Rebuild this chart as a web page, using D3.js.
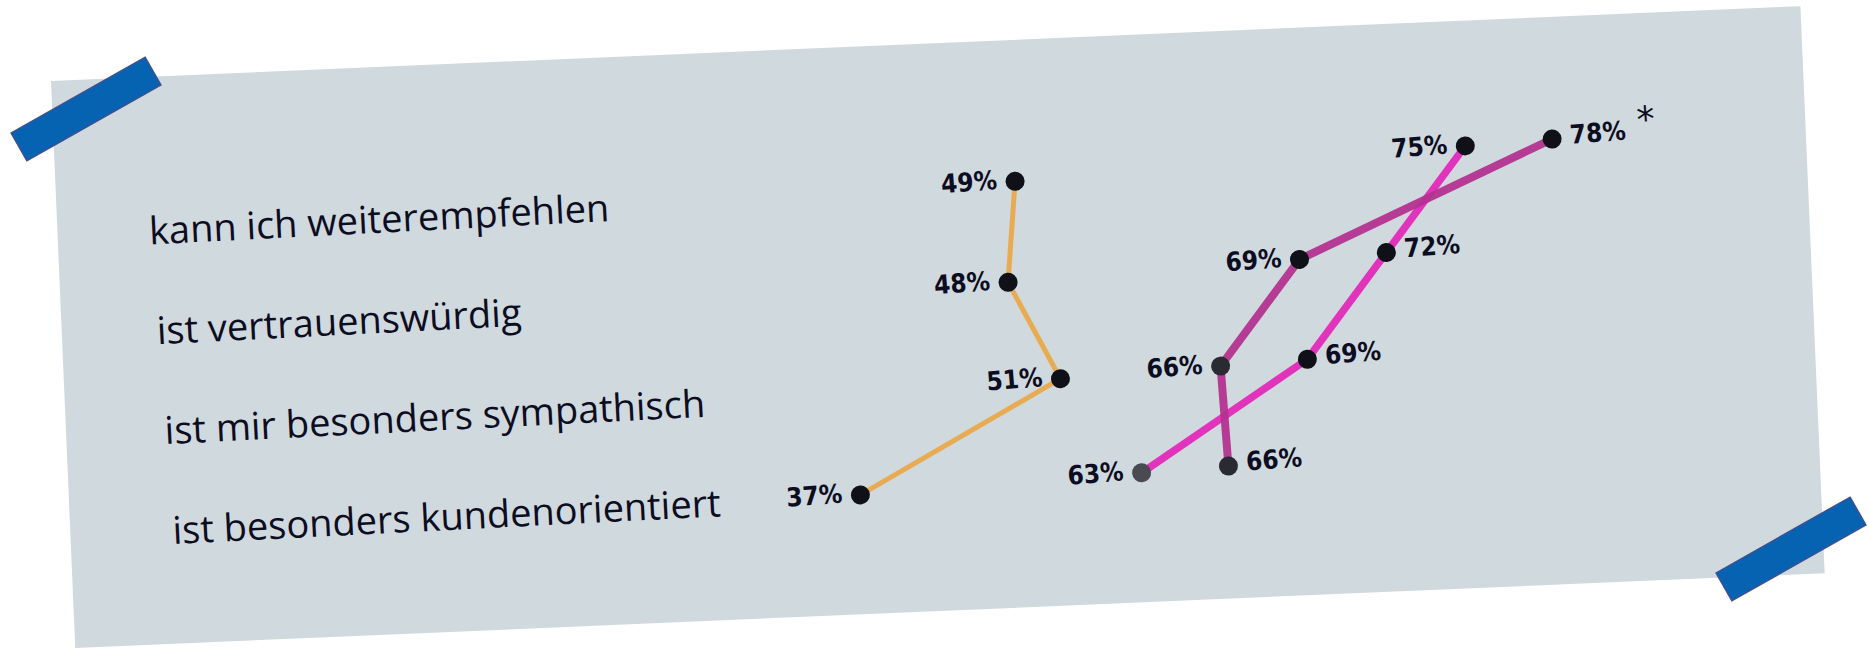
<!DOCTYPE html>
<html>
<head>
<meta charset="utf-8">
<script src="https://cdn.jsdelivr.net/npm/d3@7/dist/d3.min.js"></script>
<style>
  html, body { margin: 0; padding: 0; background: #ffffff; }
  svg { display: block; }
</style>
</head>
<body>
<svg id="chart" width="1868" height="648"></svg>
<script>
// ---- data ----
const categories = [
  "kann ich weiterempfehlen",
  "ist vertrauenswürdig",
  "ist mir besonders sympathisch",
  "ist besonders kundenorientiert"
];
const seriesNames = ["orange", "magenta", "pink"];
const orangeValues  = [49, 48, 51, 37];
const magentaValues = [78, 69, 66, 66];
const pinkValues    = [75, 72, 69, 63];
const footnoteMark = "*";          // attached to the highest value

// ---- layout ----
const W = 1868, H = 648;
const svg = d3.select("#chart");

const paperColor = "#d0d9de";
const tapeColor = "#0563b1";
const tapeStroke = "#3d5190";
const inkColor = "#0d0d22";

// paper sheet
svg.append("g")
  .attr("transform", "translate(51,81) rotate(-2.45)")
  .append("rect")
  .attr("width", 1751).attr("height", 567.5)
  .attr("fill", paperColor);

// chart group rotated like the hand drawing
const g = svg.append("g").attr("transform", "rotate(-4.5)");

const y = d3.scalePoint().domain(categories).range([260.4, 560.9]);
const xOrange = d3.scaleLinear().domain([37, 51]).range([818.9, 1027.5]);
const xRight  = d3.scaleLinear().domain([63, 78]).range([1101, 1536.4]);

const series = [
  { name: "pink",    values: pinkValues,    x: xRight,  color: "#e32ab9", width: 7.5 },
  { name: "magenta", values: magentaValues, x: xRight,  color: "#b3338f", width: 8 },
  { name: "orange",  values: orangeValues,  x: xOrange, color: "#e9a94a", width: 5 }
];

// category labels (handwritten-style text)
g.selectAll("text.cat")
  .data(categories)
  .join("text")
  .attr("class", "cat")
  .attr("x", 130)
  .attr("y", d => y(d) - 5)
  .attr("transform", d => `rotate(1.6, 130, ${y(d) - 5})`)
  .attr("font-family", "'Open Sans', 'Noto Sans', sans-serif")
  .attr("font-size", 38)
  .attr("fill", inkColor)
  .text(d => d);

// lines
const line = s => d3.line()
  .x(d => s.x(d.v))
  .y(d => y(d.c))
  .curve(d3.curveLinear);

series.forEach(s => {
  const pts = s.values.map((v, i) => ({ v, c: categories[i] }));
  g.append("path")
    .datum(pts)
    .attr("d", line(s))
    .attr("fill", "none")
    .attr("stroke", s.color)
    .attr("stroke-width", s.width)
    .attr("stroke-linecap", "round")
    .attr("stroke-linejoin", "round")
    .attr("opacity", 0.95);
});

const maxValue = d3.max([...orangeValues, ...magentaValues, ...pinkValues]);

// dots + value labels
series.forEach(s => {
  const pts = s.values.map((v, i) => ({ v, c: categories[i], i }));
  g.selectAll(null)
    .data(pts)
    .join("circle")
    .attr("cx", d => s.x(d.v))
    .attr("cy", d => y(d.c))
    .attr("r", 9.5)
    .attr("fill", d => (s.name === "pink" && d.i === 3) ? "#4a4a50" : (s.name === "magenta" && d.i >= 2 ? "#2a2a32" : "#101018"));

  const labels = g.selectAll(null)
    .data(pts)
    .join("text")
    .attr("font-family", "'Liberation Sans Narrow', 'DejaVu Sans Condensed', sans-serif")
    .attr("font-weight", 700)
    .attr("font-size", 26)
    .attr("fill", inkColor)
    .attr("dy", "0.35em")
    .attr("y", d => y(d.c) - 3)
    .each(function(d) {
      let right;
      if (s.name === "orange") right = false;
      else {
        const other = s.name === "pink" ? magentaValues[d.i] : pinkValues[d.i];
        right = d.v > other;
      }
      d3.select(this)
        .attr("x", s.x(d.v) + (right ? 18 : -18))
        .attr("text-anchor", right ? "start" : "end");
    })
    .text(d => d.v + "%");

  // footnote asterisk next to the highest value
  labels.filter(d => d.v === maxValue)
    .append("tspan")
    .attr("dx", 12)
    .attr("dy", -6)
    .attr("font-family", "'DejaVu Sans', sans-serif")
    .attr("font-weight", 400)
    .attr("font-size", 36)
    .text(footnoteMark);
});

// tape strips
const tapes = [
  { cx: 86, cy: 109 },
  { cx: 1791, cy: 549 }
];
svg.selectAll("rect.tape")
  .data(tapes)
  .join("rect")
  .attr("class", "tape")
  .attr("x", -77).attr("y", -16)
  .attr("width", 154).attr("height", 32)
  .attr("transform", d => `translate(${d.cx},${d.cy}) rotate(-29.5)`)
  .attr("fill", tapeColor)
  .attr("stroke", tapeStroke)
  .attr("stroke-width", 1.5);
</script>
</body>
</html>
